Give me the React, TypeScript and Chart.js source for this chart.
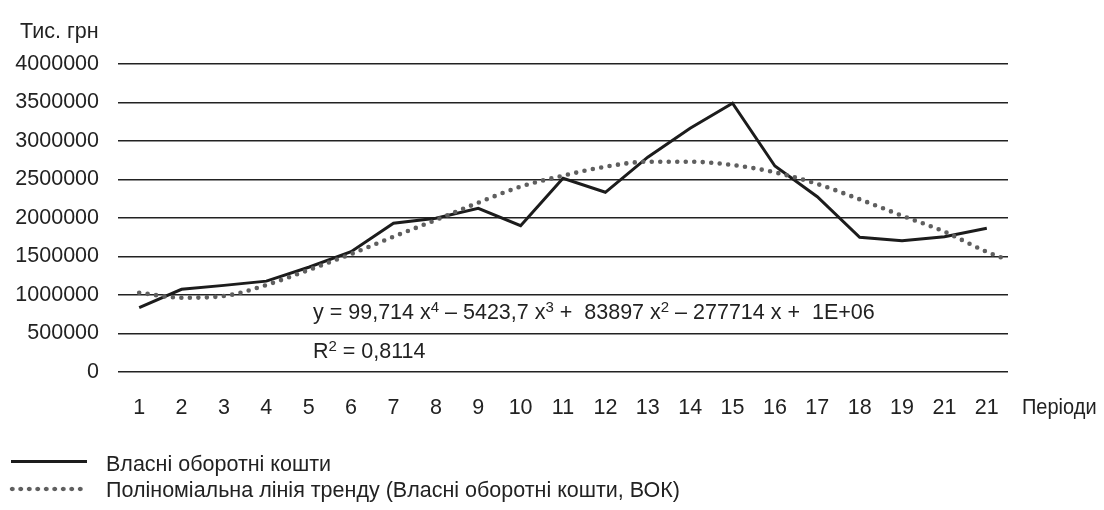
import React, { useEffect, useRef } from 'react';
import { Chart, registerables } from 'chart.js';

Chart.register(...registerables);

const FONT = "'Liberation Sans', Arial, sans-serif";
const FONT_SIZE = 21.5;
const TEXT_COLOR = '#222222';

const periodLabels = ['1', '2', '3', '4', '5', '6', '7', '8', '9', '10', '11', '12', '13', '14', '15', '16', '17', '18', '19', '21', '21'];
const periodPositions = [1, 2, 3, 4, 5, 6, 7, 8, 9, 10, 11, 12, 13, 14, 15, 16, 17, 18, 19, 20, 21];
const ownWorkingCapital = [835000, 1074000, 1125000, 1180000, 1360000, 1562000, 1931000, 1996000, 2126000, 1900000, 2515000, 2334000, 2790000, 3165000, 3490000, 2675000, 2277000, 1749000, 1705000, 1757000, 1866000];
const trendPositions = [1, 2, 3, 4, 5, 6, 7, 8, 9, 10, 11, 12, 13, 14, 15, 16, 17, 18, 19, 20, 21, 21.38];
const trendValues = [1030000, 965000, 987000, 1130000, 1325000, 1532000, 1757000, 1974000, 2199000, 2407000, 2550000, 2666000, 2731000, 2731000, 2688000, 2593000, 2442000, 2243000, 2030000, 1822000, 1560000, 1480000];
const yTickValues = [0, 500000, 1000000, 1500000, 2000000, 2500000, 3000000, 3500000, 4000000];

const seriesName = 'Власні оборотні кошти';
const trendName = 'Поліноміальна лінія тренду (Власні оборотні кошти, ВОК)';
const yUnit = 'Тис. грн';
const xTitle = 'Періоди';
const equationParts = [
  { t: 'y = 99,714 x' }, { t: '4', sup: true },
  { t: ' – 5423,7 x' }, { t: '3', sup: true },
  { t: ' +  83897 x' }, { t: '2', sup: true },
  { t: ' – 277714 x +  1E+06' },
];
const r2Parts = [{ t: 'R' }, { t: '2', sup: true }, { t: ' = 0,8114' }];

function drawRich(ctx: CanvasRenderingContext2D, parts: any[], x: number, y: number) {
  let cx = x;
  for (const p of parts) {
    if (p.sup) {
      ctx.font = `15px ${FONT}`;
      ctx.fillText(p.t, cx, y - 5);
    } else {
      ctx.font = `${FONT_SIZE}px ${FONT}`;
      ctx.fillText(p.t, cx, y);
    }
    cx += ctx.measureText(p.t).width;
  }
}

const textPlugin = {
  id: 'annotTexts',
  afterDraw(chart: any) {
    const { ctx, chartArea } = chart;
    ctx.save();
    ctx.fillStyle = TEXT_COLOR;
    ctx.textBaseline = 'middle';
    ctx.textAlign = 'left';
    ctx.font = `${FONT_SIZE}px ${FONT}`;
    ctx.fillText(yUnit, 20, 32);
    ctx.save();
    ctx.translate(chartArea.right + 14, 408);
    ctx.scale(0.93, 1);
    ctx.fillText(xTitle, 0, 0);
    ctx.restore();
    drawRich(ctx, equationParts, chartArea.left + 195, 313);
    drawRich(ctx, r2Parts, chartArea.left + 195, 352);
    ctx.restore();
  },
};

export default function App() {
  const ref = useRef<HTMLCanvasElement | null>(null);

  useEffect(() => {
    if (!ref.current) return;
    const chart = new Chart(ref.current, {
      type: 'line',
      data: {
        datasets: [
          {
            label: seriesName,
            data: periodPositions.map((x, i) => ({ x, y: ownWorkingCapital[i] })),
            borderColor: '#1c1c1c',
            borderWidth: 3,
            pointRadius: 0,
            tension: 0,
            order: 1,
          },
          {
            label: trendName,
            data: trendPositions.map((x, i) => ({ x, y: trendValues[i] })),
            borderColor: '#5f5f5f',
            borderWidth: 4.6,
            borderDash: [0, 8.5],
            borderCapStyle: 'round',
            pointRadius: 0,
            cubicInterpolationMode: 'monotone',
            order: 0,
          },
        ],
      },
      options: {
        animation: false,
        responsive: true,
        maintainAspectRatio: false,
        layout: { padding: { top: 64, right: 96, bottom: 78, left: 0 } },
        plugins: {
          legend: { display: false },
          tooltip: { enabled: false },
          title: { display: false },
        },
        scales: {
          x: {
            type: 'linear',
            min: 0.5,
            max: 21.5,
            grid: { display: false, drawTicks: false },
            border: { display: false },
            afterBuildTicks: (scale: any) => {
              scale.ticks = periodPositions.map((v) => ({ value: v }));
            },
            afterFit: (scale: any) => {
              scale.height = 60;
            },
            ticks: {
              autoSkip: false,
              maxRotation: 0,
              padding: 23,
              color: TEXT_COLOR,
              font: { family: FONT, size: FONT_SIZE },
              callback: (value: any) => {
                const i = periodPositions.indexOf(Number(value));
                return i >= 0 ? periodLabels[i] : '';
              },
            },
          },
          y: {
            min: 0,
            max: 4000000,
            grid: { color: '#222222', lineWidth: 1.5, drawTicks: false },
            border: { display: false },
            afterBuildTicks: (scale: any) => {
              scale.ticks = yTickValues.map((v) => ({ value: v }));
            },
            afterFit: (scale: any) => {
              scale.width = 118;
            },
            ticks: {
              padding: 19,
              color: TEXT_COLOR,
              font: { family: FONT, size: FONT_SIZE },
              callback: (value: any) => String(value),
            },
          },
        },
      },
      plugins: [textPlugin],
    } as any);
    return () => chart.destroy();
  }, []);

  const legendText: React.CSSProperties = {
    position: 'absolute',
    left: 106,
    fontFamily: FONT,
    fontSize: FONT_SIZE,
    lineHeight: '24px',
    color: TEXT_COLOR,
    whiteSpace: 'nowrap',
  };

  return (
    <div style={{ position: 'relative', width: 1104, height: 510, margin: '-8px 0 0 -8px', overflow: 'hidden' }}>
      <canvas ref={ref} />
      <div style={{ position: 'absolute', left: 11, top: 460, width: 76, height: 3, background: '#1c1c1c' }} />
      <div style={{ ...legendText, top: 452 }}>{seriesName}</div>
      <div
        style={{
          position: 'absolute',
          left: 8,
          top: 486,
          width: 77,
          height: 6,
          backgroundImage: 'radial-gradient(circle, #5f5f5f 2px, rgba(95,95,95,0) 2.6px)',
          backgroundSize: '8.5px 6px',
          backgroundRepeat: 'repeat-x',
        }}
      />
      <div style={{ ...legendText, top: 478 }}>{trendName}</div>
    </div>
  );
}
